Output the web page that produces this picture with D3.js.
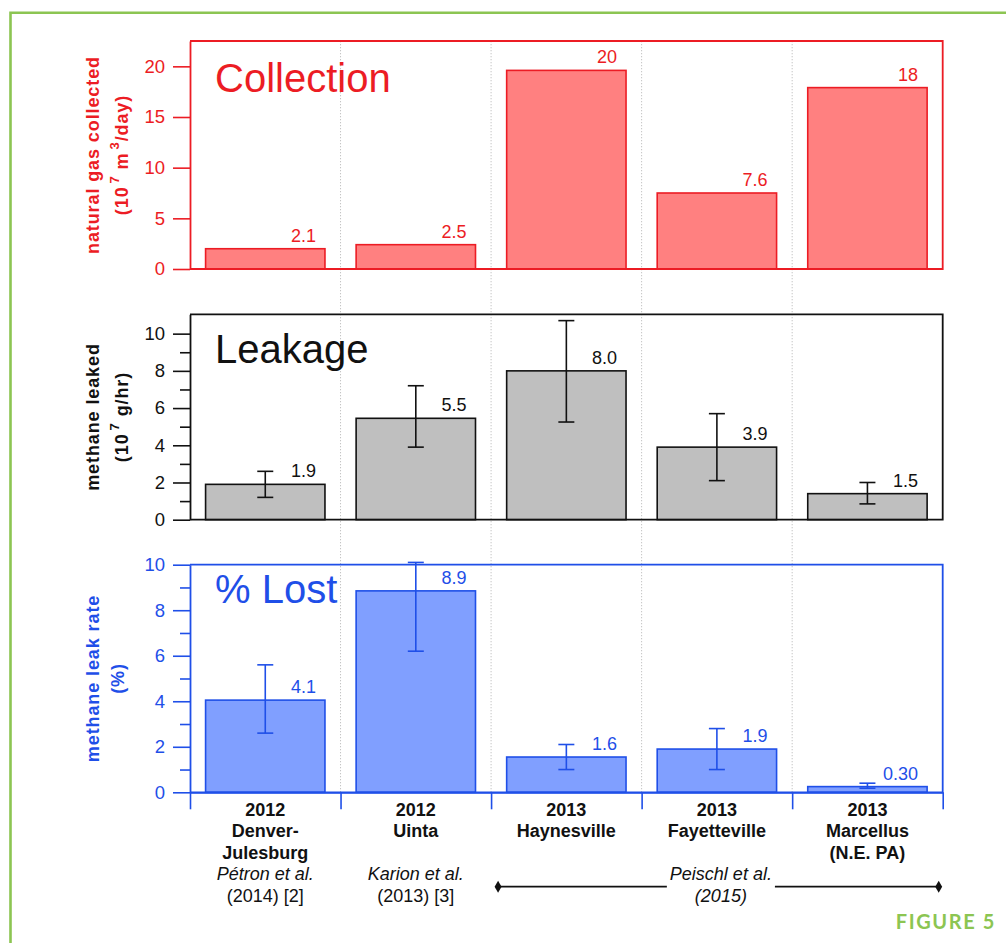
<!DOCTYPE html>
<html><head><meta charset="utf-8">
<script src="https://cdn.jsdelivr.net/npm/d3@7"></script>
<style>
body{margin:0;background:#fff;}
svg{display:block;font-family:"Liberation Sans",Arial,Helvetica,sans-serif;}
</style>
</head><body>
<svg id="c" width="1006" height="943"></svg>
<script>
// ---------- data ----------
const categories = ["Denver-Julesburg","Uinta","Haynesville","Fayetteville","Marcellus"];
const years = ["2012","2012","2013","2013","2013"];
const regionLines = [["Denver-","Julesburg"],["Uinta"],["Haynesville"],["Fayetteville"],["Marcellus","(N.E. PA)"]];
const refAuthors = ["Pétron et al.","Karion et al.",null,null,null];
const refYears = ["(2014) [2]","(2013) [3]",null,null,null];
const spanRefLines = ["Peischl et al.","(2015)"];
const spanRefFrom = "Haynesville", spanRefTo = "Marcellus";

const collected = [2.0, 2.4, 19.6, 7.5, 17.9];
const collectedLabels = ["2.1","2.5","20","7.6","18"];
const collectedTicks = [0,5,10,15,20];

const leaked = [1.9, 5.45, 8.0, 3.9, 1.4];
const leakedLow = [1.2, 3.9, 5.25, 2.1, 0.85];
const leakedHigh = [2.6, 7.2, 10.7, 5.7, 2.0];
const leakedLabels = ["1.9","5.5","8.0","3.9","1.5"];
const leakedTicks = [0,2,4,6,8,10];
const leakedMinor = [1,3,5,7,9];

const lostRate = [4.05, 8.85, 1.55, 1.9, 0.25];
const lostLow = [2.6, 6.2, 1.0, 1.0, 0.18];
const lostHigh = [5.6, 10.1, 2.1, 2.8, 0.4];
const lostLabels = ["4.1","8.9","1.6","1.9","0.30"];
const lostTicks = [0,2,4,6,8,10];
const lostMinor = [1,3,5,7,9];

// ---------- layout ----------
const svg = d3.select("#c");
const L = 190, R = 942.7;
const x = d3.scaleBand().domain(categories).range([L, R]).paddingInner(0.207).paddingOuter(0.1035);
const bounds = d3.scaleLinear().domain([0, categories.length]).range([L, R]);

const panels = [
  {title:"Collection", top:41, bottom:269, max:22.5, values:collected, labels:collectedLabels,
   ticks:collectedTicks, minor:[], lo:null, hi:null,
   color:"#ec1c24", fill:"#ff8080", titleDy:51,
   ylab1:"natural gas collected", ylab2:[["(10",0],["7",1],[" m",0],["3",1],["/day)",0]]},
  {title:"Leakage", top:314.3, bottom:519.7, max:11.04, values:leaked, labels:leakedLabels,
   ticks:leakedTicks, minor:leakedMinor, lo:leakedLow, hi:leakedHigh,
   color:"#111111", fill:"#bfbfbf", titleDy:48.5,
   ylab1:"methane leaked", ylab2:[["(10",0],["7",1],[" g/hr)",0]]},
  {title:"% Lost", top:564.7, bottom:792.3, max:10, values:lostRate, labels:lostLabels,
   ticks:lostTicks, minor:lostMinor, lo:lostLow, hi:lostHigh,
   color:"#1f4fe8", fill:"#809fff", titleDy:38.6,
   ylab1:"methane leak rate", ylab2:[["(%)",0]]}
];

// green border
svg.append("path").attr("d","M10.5,960 L10.5,12.8 L1010,12.8")
  .attr("fill","none").attr("stroke","#8cc552").attr("stroke-width",2.6);

// dotted separators
svg.append("g").selectAll("line").data(d3.range(1, categories.length)).join("line")
  .attr("x1", d=>bounds(d)).attr("x2", d=>bounds(d))
  .attr("y1", 41).attr("y2", 792)
  .attr("stroke","#c4c4c4").attr("stroke-width",1).attr("stroke-dasharray","1.3,1.7");

panels.forEach((p, pi) => {
  const y = d3.scaleLinear().domain([0, p.max]).range([p.bottom, p.top]);
  const g = svg.append("g");

  // bars
  g.selectAll("rect.bar").data(categories).join("rect").attr("class","bar")
    .attr("x", c=>x(c)).attr("width", x.bandwidth())
    .attr("y", (c,i)=>y(p.values[i])).attr("height", (c,i)=>y(0)-y(p.values[i]))
    .attr("fill", p.fill).attr("stroke", p.color).attr("stroke-width", 1.6);

  // error bars
  if (p.lo) {
    const eg = g.append("g").attr("stroke", p.color).attr("stroke-width", 1.6).attr("fill","none");
    categories.forEach((c,i) => {
      const cx = x(c) + x.bandwidth()/2;
      eg.append("line").attr("x1",cx).attr("x2",cx).attr("y1",y(p.lo[i])).attr("y2",y(p.hi[i]));
      eg.append("line").attr("x1",cx-8).attr("x2",cx+8).attr("y1",y(p.lo[i])).attr("y2",y(p.lo[i]));
      eg.append("line").attr("x1",cx-8).attr("x2",cx+8).attr("y1",y(p.hi[i])).attr("y2",y(p.hi[i]));
    });
  }

  // value labels
  g.selectAll("text.val").data(categories).join("text").attr("class","val")
    .attr("x", c=>x(c)+x.bandwidth()-9).attr("y", (c,i)=>y(p.values[i])-7)
    .attr("text-anchor","end").attr("font-size",18).attr("fill", p.color)
    .text((c,i)=>p.labels[i]);

  // frame: top + right + bottom
  g.append("path")
    .attr("d", `M${L},${p.top} L${R},${p.top} L${R},${p.bottom} L${L},${p.bottom}`)
    .attr("fill","none").attr("stroke", p.color).attr("stroke-width",1.8);

  // y axis
  const ax = g.append("g").attr("transform",`translate(${L},0)`)
    .call(d3.axisLeft(y).tickValues(p.ticks).tickSize(17).tickSizeOuter(0).tickPadding(8).tickFormat(d3.format("d")));
  ax.attr("font-family",null).attr("font-size",null);
  ax.select(".domain").attr("stroke", p.color).attr("stroke-width",1.8);
  ax.selectAll(".tick line").attr("stroke", p.color).attr("stroke-width",1.6);
  ax.selectAll(".tick text").attr("fill", p.color).attr("font-size",18.5);
  if (p.minor.length) {
    const mx = g.append("g").attr("transform",`translate(${L},0)`)
      .call(d3.axisLeft(y).tickValues(p.minor).tickSize(10).tickSizeOuter(0).tickFormat(""));
    mx.select(".domain").remove();
    mx.selectAll(".tick line").attr("stroke", p.color).attr("stroke-width",1.6);
  }

  // panel title
  g.append("text").attr("x", 215).attr("y", p.top + p.titleDy)
    .attr("font-size", 40).attr("fill", p.color).text(p.title);

  // y axis label
  const cy = (p.top + p.bottom)/2;
  g.append("text").attr("transform",`translate(99,${cy}) rotate(-90)`)
    .attr("text-anchor","middle").attr("font-size",18).attr("font-weight","bold")
    .attr("letter-spacing",0.9).attr("fill",p.color).text(p.ylab1);
  const t2 = g.append("text").attr("transform",`translate(${p.ylab2.length>1?128:124},${cy}) rotate(-90)`)
    .attr("text-anchor","middle").attr("font-size",18).attr("font-weight","bold")
    .attr("letter-spacing",0.9).attr("fill",p.color);
  p.ylab2.forEach((s, k) => {
    const prevSup = k>0 && p.ylab2[k-1][1];
    const ts = t2.append("tspan").text(s[0]);
    if (s[1]) ts.attr("font-size",13).attr("dy",-9).attr("dx",3);
    else if (prevSup) ts.attr("dy",9);
  });

  // bottom x-axis ticks for last panel
  if (pi === panels.length-1) {
    const bx = g.append("g").attr("transform",`translate(0,${p.bottom})`)
      .call(d3.axisBottom(bounds).tickValues(d3.range(0, categories.length+1)).tickSize(17).tickSizeOuter(0).tickFormat(""));
    bx.select(".domain").attr("stroke", p.color).attr("stroke-width",1.8);
    bx.selectAll(".tick line").attr("stroke", p.color).attr("stroke-width",1.6);
  }
});

// category labels
const lab = svg.append("g").attr("fill","#111").attr("font-size",18).attr("text-anchor","middle");
const base0 = 816, lh = 21.4;
categories.forEach((c,i) => {
  const cx = x(c) + x.bandwidth()/2;
  const lines = [years[i]].concat(regionLines[i]);
  lines.forEach((s,k) => lab.append("text").attr("x",cx).attr("y",base0+k*lh).attr("font-weight","bold").text(s));
  if (refAuthors[i]) lab.append("text").attr("x",cx).attr("y",base0+3*lh).attr("font-style","italic").text(refAuthors[i]);
  if (refYears[i]) lab.append("text").attr("x",cx).attr("y",base0+4*lh).text(refYears[i]);
});

// spanning reference
const spanCx = (x("Fayetteville") + x.bandwidth()/2) + 4;
const refT = spanRefLines.map((s,k) => lab.append("text").attr("x",spanCx).attr("y",base0+(3+k)*lh)
  .attr("font-style","italic").text(s));
const tw = refT[0].node().getComputedTextLength();
const lineY = 886.7;
const x0 = bounds(categories.indexOf(spanRefFrom)) + 7, x1 = bounds(categories.indexOf(spanRefTo)+1) - 4;
const sg = svg.append("g").attr("stroke","#111").attr("stroke-width",1.8);
sg.append("line").attr("x1",x0).attr("x2",spanCx - tw/2 - 3).attr("y1",lineY).attr("y2",lineY);
sg.append("line").attr("x1",spanCx + tw/2 + 3).attr("x2",x1).attr("y1",lineY).attr("y2",lineY);
svg.append("g").selectAll("path").data([x0,x1]).join("path")
  .attr("transform", d=>`translate(${d},${lineY})`)
  .attr("d", d3.symbol(d3.symbolDiamond, 42)).attr("fill","#111");

// figure caption
svg.append("text").attr("x",996).attr("y",928.7).attr("text-anchor","end")
  .attr("font-family","Lato, 'Open Sans', sans-serif").attr("font-weight","bold")
  .attr("font-size",20).attr("letter-spacing",1.6).attr("fill","#8cc552").text("FIGURE 5");
</script>
</body></html>
